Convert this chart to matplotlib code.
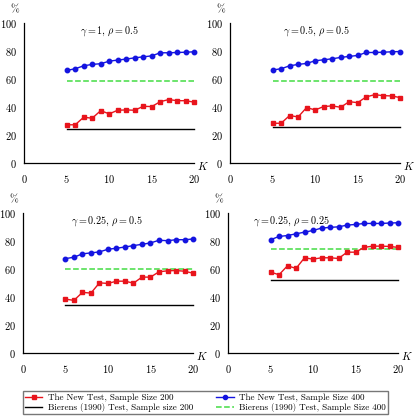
import matplotlib
matplotlib.use("Agg")
import matplotlib.pyplot as plt
from matplotlib.lines import Line2D
from matplotlib.transforms import offset_copy

plt.rcParams["font.family"] = ["cmr10", "DejaVu Serif"]
plt.rcParams["mathtext.fontset"] = "cm"
plt.rcParams["axes.formatter.use_mathtext"] = True

K = list(range(5, 21))

titles = [r"$\gamma = 1,\, \rho = 0.5$", r"$\gamma = 0.5,\, \rho = 0.5$",
          r"$\gamma = 0.25,\, \rho = 0.5$", r"$\gamma = 0.25,\, \rho = 0.25$"]

new200_a = [27.3, 27.3, 32.7, 32.0, 37.4, 35.1, 37.7, 37.9, 37.7, 40.5, 40.3, 43.8, 45.3, 44.5, 44.5, 43.4]
new400_a = [66.1, 67.3, 69.4, 70.4, 70.9, 72.7, 73.5, 74.2, 75.1, 75.8, 76.5, 78.7, 78.7, 78.9, 79.1, 79.4]
new200_b = [28.4, 28.4, 33.9, 32.9, 39.6, 37.9, 40.3, 40.8, 39.8, 43.8, 43.1, 47.2, 48.8, 48.1, 47.9, 46.7]
new400_b = [66.4, 67.3, 69.4, 70.4, 71.1, 73.0, 73.7, 74.4, 75.4, 76.1, 76.8, 78.9, 78.9, 79.1, 79.4, 79.6]
new200_c = [38.6, 37.7, 43.4, 42.9, 50.2, 49.8, 51.4, 51.4, 50.0, 54.3, 54.3, 58.1, 58.8, 59.0, 58.5, 57.1]
new400_c = [67.5, 68.5, 70.9, 71.6, 72.3, 74.2, 74.9, 75.8, 76.8, 77.7, 78.7, 80.6, 80.3, 81.0, 81.0, 81.5]
new200_d = [57.9, 56.0, 62.4, 60.5, 68.1, 67.1, 68.1, 68.1, 67.6, 72.1, 72.1, 75.5, 76.4, 76.4, 76.2, 75.5]
new400_d = [81.0, 83.3, 84.0, 85.2, 86.4, 87.6, 89.3, 89.8, 90.2, 91.4, 91.9, 92.6, 92.6, 92.6, 92.9, 93.1]

bierens200 = [24.4, 25.4, 34.1, 52.1]
bierens400 = [58.8, 58.8, 60.4, 74.5]

new200 = [new200_a, new200_b, new200_c, new200_d]
new400 = [new400_a, new400_b, new400_c, new400_d]

RED = "#e8141c"
BLUE = "#1414e0"
GREEN = "#44dd44"

fig = plt.figure(figsize=(4.16, 4.17), dpi=100)
rects = [
    [0.058, 0.609, 0.409, 0.336],
    [0.553, 0.609, 0.409, 0.336],
    [0.055, 0.153, 0.409, 0.336],
    [0.548, 0.153, 0.409, 0.336],
]
title_x = [10, 10.1, 9.9, 7.5]

for i, r in enumerate(rects):
    ax = fig.add_axes(r)
    ax.plot(K, new400[i], "-o", color=BLUE, lw=1, ms=3.2, clip_on=False, zorder=4)
    ax.plot(K, new200[i], "-s", color=RED, lw=1, ms=3.2, clip_on=False, zorder=4)
    ax.plot([K[0], K[-1]], [bierens200[i]] * 2, "-", color="black", lw=1, clip_on=False)
    ax.plot([K[0], K[-1]], [bierens400[i]] * 2, "--", color=GREEN, lw=1.1, clip_on=False)
    ax.set_xlim(0, 20)
    ax.set_ylim(0, 100)
    ax.set_xticks([0, 5, 10, 15, 20])
    ax.set_yticks([0, 20, 40, 60, 80, 100])
    ax.tick_params(length=0, labelsize=7.5)
    ax.tick_params(axis="y", pad=5)
    ax.tick_params(axis="x", pad=7)
    for s in ["top", "right"]:
        ax.spines[s].set_visible(False)
    ax.spines["left"].set_linewidth(0.9)
    ax.spines["bottom"].set_linewidth(0.9)
    ax.text(title_x[i], 94, titles[i], ha="center", va="center", fontsize=7.3)
    # "%" above the y axis, "K" at the end of the x axis
    ax.text(0, 1, "%", transform=offset_copy(ax.transAxes, fig, x=-9, y=13, units="dots"),
            ha="center", va="center", fontsize=7.5)
    ax.text(1, 0, r"$K$", transform=offset_copy(ax.transAxes, fig, x=9, y=-3, units="dots"),
            ha="center", va="center", fontsize=8)

handles = [
    Line2D([], [], color=RED, marker="s", ms=3, lw=1),
    Line2D([], [], color="black", lw=1),
    Line2D([], [], color=BLUE, marker="o", ms=3, lw=1),
    Line2D([], [], color=GREEN, lw=1.1, ls="--"),
]
labels = [
    "The New Test, Sample Size 200",
    "Bierens (1990) Test, Sample size 200",
    "The New Test, Sample Size 400",
    "Bierens (1990) Test, Sample Size 400",
]
fig.legend(handles, labels, ncol=2, loc="lower left",
           bbox_to_anchor=(0.055, 0.007),
           fontsize=6.5, frameon=True, fancybox=False, edgecolor="#555555",
           handlelength=1.9, handletextpad=0.6, borderpad=0.25, labelspacing=0.1,
           columnspacing=2.6, borderaxespad=0)

fig.savefig("out.png", dpi=100)
